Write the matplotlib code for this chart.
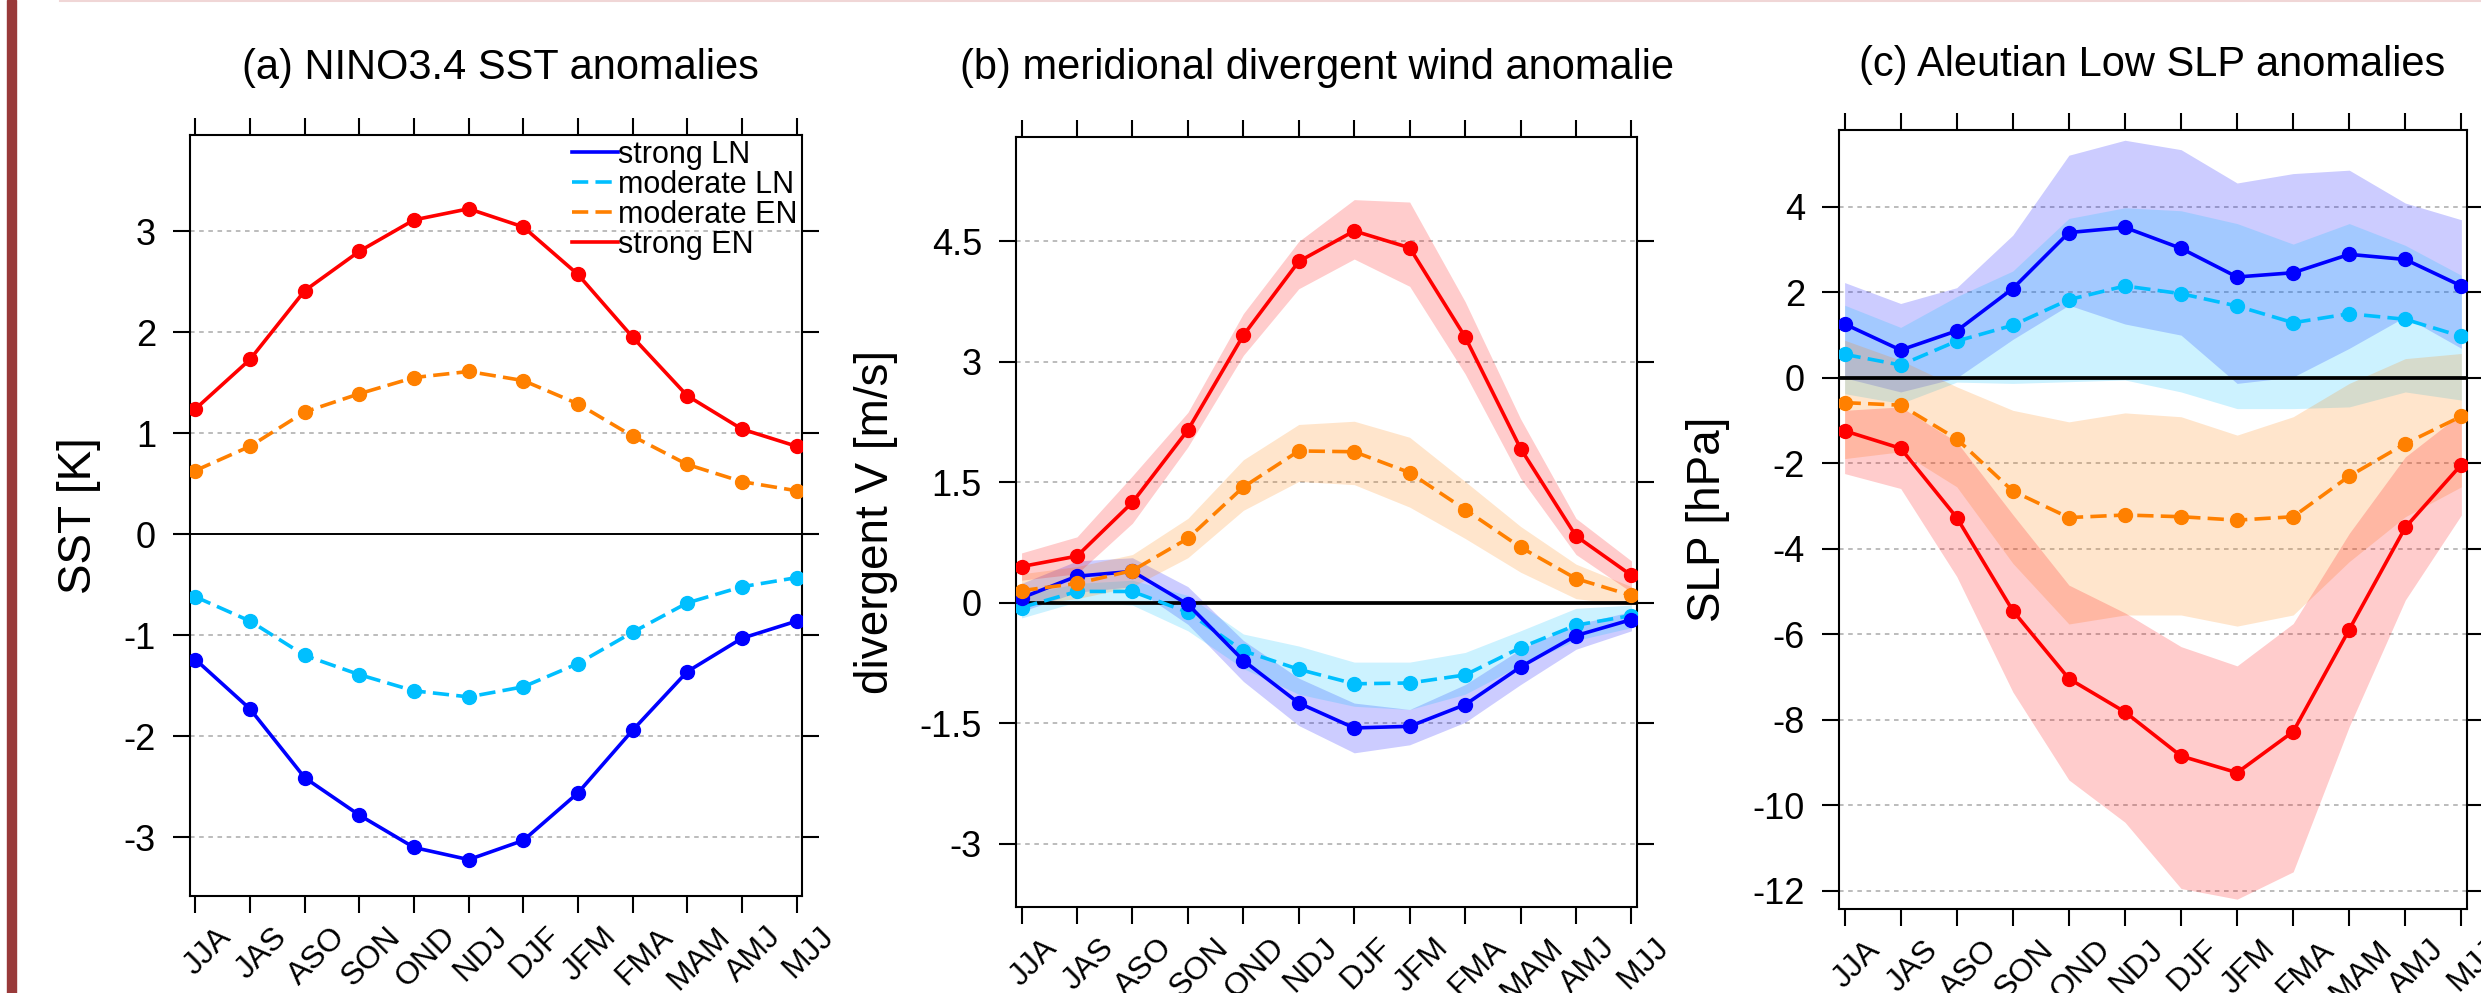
import matplotlib
matplotlib.use('Agg')
import matplotlib.pyplot as plt
import matplotlib.transforms as mtransforms
from matplotlib.lines import Line2D
from matplotlib.patches import Rectangle
import numpy as np

plt.rcParams['font.family'] = ['Liberation Sans', 'DejaVu Sans']
plt.rcParams['axes.unicode_minus'] = False

seasons = ['JJA', 'JAS', 'ASO', 'SON', 'OND', 'NDJ', 'DJF', 'JFM', 'FMA', 'MAM', 'AMJ', 'MJJ']

# (a) NINO3.4 SST anomalies [K]
sst_strong_ln = [-1.24, -1.73, -2.41, -2.78, -3.10, -3.22, -3.03, -2.56, -1.94, -1.36, -1.03, -0.86]
sst_mod_ln = [-0.62, -0.86, -1.20, -1.39, -1.55, -1.61, -1.51, -1.28, -0.97, -0.68, -0.52, -0.43]
sst_mod_en = [0.63, 0.87, 1.21, 1.39, 1.55, 1.61, 1.52, 1.29, 0.97, 0.69, 0.52, 0.43]
sst_strong_en = [1.24, 1.73, 2.41, 2.80, 3.11, 3.22, 3.04, 2.57, 1.95, 1.37, 1.04, 0.87]

# (b) meridional divergent wind anomalies [m/s], mean and band
v_strong_ln = [0.06, 0.33, 0.39, -0.02, -0.72, -1.25, -1.56, -1.54, -1.27, -0.80, -0.41, -0.21]
v_strong_ln_hi = [0.24, 0.52, 0.56, 0.20, -0.47, -0.94, -1.25, -1.33, -1.02, -0.58, -0.27, -0.11]
v_strong_ln_lo = [-0.11, 0.13, 0.20, -0.27, -0.98, -1.53, -1.87, -1.77, -1.49, -1.02, -0.58, -0.35]
v_mod_ln = [-0.06, 0.14, 0.14, -0.12, -0.60, -0.83, -1.01, -1.00, -0.90, -0.56, -0.28, -0.16]
v_mod_ln_hi = [0.09, 0.24, 0.28, 0.09, -0.39, -0.54, -0.74, -0.74, -0.62, -0.35, -0.07, -0.03]
v_mod_ln_lo = [-0.19, 0.01, -0.03, -0.35, -0.82, -1.14, -1.29, -1.33, -1.14, -0.78, -0.47, -0.31]
v_mod_en = [0.15, 0.24, 0.40, 0.80, 1.44, 1.89, 1.88, 1.62, 1.16, 0.69, 0.30, 0.09]
v_mod_en_hi = [0.36, 0.45, 0.60, 1.05, 1.78, 2.22, 2.26, 2.06, 1.51, 0.95, 0.48, 0.20]
v_mod_en_lo = [-0.03, 0.05, 0.20, 0.56, 1.15, 1.51, 1.47, 1.19, 0.80, 0.38, 0.05, -0.03]
v_strong_en = [0.45, 0.58, 1.25, 2.15, 3.33, 4.25, 4.63, 4.42, 3.31, 1.92, 0.83, 0.34]
v_strong_en_hi = [0.62, 0.82, 1.58, 2.37, 3.60, 4.50, 5.02, 4.99, 3.75, 2.29, 1.05, 0.52]
v_strong_en_lo = [0.28, 0.36, 0.99, 1.94, 3.08, 3.91, 4.28, 3.94, 2.85, 1.55, 0.60, 0.13]

# (c) Aleutian Low SLP anomalies [hPa], mean and band
slp_strong_ln = [1.26, 0.65, 1.10, 2.09, 3.40, 3.52, 3.03, 2.36, 2.46, 2.89, 2.77, 2.15]
slp_strong_ln_hi = [2.23, 1.74, 2.11, 3.34, 5.21, 5.56, 5.34, 4.56, 4.78, 4.86, 4.09, 3.70]
slp_strong_ln_lo = [0.00, -0.33, 0.00, 0.90, 1.70, 1.26, 1.00, -0.13, 0.02, 0.69, 1.43, 0.69]
slp_mod_ln = [0.55, 0.30, 0.86, 1.23, 1.83, 2.15, 1.97, 1.68, 1.29, 1.50, 1.37, 0.97]
slp_mod_ln_hi = [1.70, 1.18, 1.90, 2.50, 3.73, 3.98, 3.91, 3.61, 3.13, 3.61, 3.10, 2.40]
slp_mod_ln_lo = [-0.37, -0.60, -0.10, -0.13, -0.09, -0.05, -0.33, -0.72, -0.72, -0.68, -0.33, -0.52]
slp_mod_en = [-0.58, -0.64, -1.43, -2.65, -3.27, -3.21, -3.25, -3.33, -3.25, -2.30, -1.54, -0.90]
slp_mod_en_hi = [0.88, 0.41, -0.21, -0.76, -1.03, -0.82, -0.91, -1.34, -0.91, -0.13, 0.45, 0.57]
slp_mod_en_lo = [-1.89, -1.73, -2.55, -4.34, -5.76, -5.55, -5.55, -5.81, -5.55, -4.30, -3.25, -2.55]
slp_strong_en = [-1.24, -1.65, -3.27, -5.45, -7.04, -7.82, -8.85, -9.24, -8.28, -5.89, -3.50, -2.03]
slp_strong_en_hi = [-0.76, -0.68, -1.50, -3.20, -4.85, -5.50, -6.29, -6.74, -5.75, -3.64, -1.85, -0.83]
slp_strong_en_lo = [-2.24, -2.59, -4.65, -7.35, -9.41, -10.40, -11.95, -12.20, -11.56, -8.16, -5.20, -3.21]

c_sln = '#0000ff'
c_mln = '#00bfff'
c_men = '#ff8000'
c_sen = '#ff0000'
dash = (0, (4.5, 2.0))
lw_line = 2.6

x = np.arange(len(seasons))

fig = plt.figure(figsize=(24.81, 9.93), dpi=100)
W, H = 2481.0, 993.0

def px_axes(l, t, r, b):
    return fig.add_axes([l / W, 1 - b / H, (r - l) / W, (b - t) / H])

ax_a = px_axes(190, 135, 802, 896)
ax_b = px_axes(1016, 137, 1637, 907)
ax_c = px_axes(1839, 130, 2467, 909)

# rotated month labels sit a little right of their tick
offset = mtransforms.ScaledTranslation(12 / 100, 0, fig.dpi_scale_trans)

def style(ax, yticks, ylabels, ylim, zero_lw):
    ax.set_xlim(-0.1, 11.1)
    ax.set_ylim(ylim)
    ax.set_xticks(x)
    ax.set_xticklabels(seasons, rotation=45, ha='center', fontsize=23)
    ax.set_yticks(yticks)
    ax.set_yticklabels(ylabels, fontsize=26)
    ax.tick_params(axis='both', direction='out', length=12.5, width=1.5,
                   top=True, right=True, labeltop=False, labelright=False)
    ax.tick_params(axis='y', pad=12)
    ax.tick_params(axis='x', pad=6)
    for s in ax.spines.values():
        s.set_linewidth(1.5)
    for yt in yticks:
        if yt != 0:
            ax.axhline(yt, color='#aaaaaa', lw=1.1, ls=(0, (3, 3)), zorder=0.5)
    ax.axhline(0, color='black', lw=zero_lw, zorder=3)
    for lbl in ax.get_xticklabels():
        lbl.set_transform(lbl.get_transform() + offset)

def series(ax, y, color, ls):
    ax.plot(x, y, color=color, lw=lw_line, ls=ls, marker='o', ms=10, zorder=4)

def band(ax, lo, hi, color):
    ax.fill_between(x, lo, hi, color=color, alpha=0.2, lw=0, zorder=1)

# panel a
series(ax_a, sst_strong_ln, c_sln, '-')
series(ax_a, sst_mod_ln, c_mln, dash)
series(ax_a, sst_mod_en, c_men, dash)
series(ax_a, sst_strong_en, c_sen, '-')
style(ax_a, [-3, -2, -1, 0, 1, 2, 3], ['-3', '-2', '-1', '0', '1', '2', '3'], (-3.58, 3.95), 1.4)
handles = [Line2D([], [], color=c_sln, lw=lw_line),
           Line2D([], [], color=c_mln, lw=lw_line, ls=dash),
           Line2D([], [], color=c_men, lw=lw_line, ls=dash),
           Line2D([], [], color=c_sen, lw=lw_line)]
ax_a.legend(handles, ['strong LN', 'moderate LN', 'moderate EN', 'strong EN'],
            loc='upper right', frameon=False, fontsize=22, handlelength=1.5,
            handletextpad=0.0, labelspacing=0.0, borderaxespad=0.15, borderpad=0)

# panel b
band(ax_b, v_strong_ln_lo, v_strong_ln_hi, c_sln)
band(ax_b, v_mod_ln_lo, v_mod_ln_hi, c_mln)
band(ax_b, v_mod_en_lo, v_mod_en_hi, c_men)
band(ax_b, v_strong_en_lo, v_strong_en_hi, c_sen)
series(ax_b, v_mod_ln, c_mln, dash)
series(ax_b, v_strong_ln, c_sln, '-')
series(ax_b, v_mod_en, c_men, dash)
series(ax_b, v_strong_en, c_sen, '-')
style(ax_b, [-3, -1.5, 0, 1.5, 3, 4.5], ['-3', '-1.5', '0', '1.5', '3', '4.5'], (-3.79, 5.8), 2.7)

# panel c
band(ax_c, slp_strong_ln_lo, slp_strong_ln_hi, c_sln)
band(ax_c, slp_mod_ln_lo, slp_mod_ln_hi, c_mln)
band(ax_c, slp_mod_en_lo, slp_mod_en_hi, c_men)
band(ax_c, slp_strong_en_lo, slp_strong_en_hi, c_sen)
series(ax_c, slp_mod_ln, c_mln, dash)
series(ax_c, slp_strong_ln, c_sln, '-')
series(ax_c, slp_mod_en, c_men, dash)
series(ax_c, slp_strong_en, c_sen, '-')
yt_c = [-12, -10, -8, -6, -4, -2, 0, 2, 4]
style(ax_c, yt_c, [str(v) for v in yt_c], (-12.43, 5.8), 2.7)

# titles and axis labels
fig.text(500 / W, 1 - 79 / H, '(a) NINO3.4 SST anomalies', fontsize=30, ha='center', va='baseline')
fig.text(1317 / W, 1 - 79 / H, '(b) meridional divergent wind anomalie', fontsize=30, ha='center', va='baseline')
fig.text(2152 / W, 1 - 76 / H, '(c) Aleutian Low SLP anomalies', fontsize=30, ha='center', va='baseline')
fig.text(79 / W, 1 - 516 / H, 'SST [K]', fontsize=33, rotation=90, ha='center', va='center')
fig.text(876 / W, 1 - 522 / H, 'divergent V [m/s]', fontsize=33, rotation=90, ha='center', va='center')
fig.text(1708 / W, 1 - 519 / H, 'SLP [hPa]', fontsize=33, rotation=90, ha='center', va='center')

# page decorations: dark red bar at left, thin pink rule at top
fig.patches.append(Rectangle((7 / W, 0), 9 / W, 1, transform=fig.transFigure,
                             color='#993a3a', zorder=0))
fig.lines.append(Line2D([60 / W, 1], [1 - 1 / H, 1 - 1 / H], transform=fig.transFigure,
                        color='#f0d6d6', lw=1.5))

fig.savefig('out.png', dpi=100)
